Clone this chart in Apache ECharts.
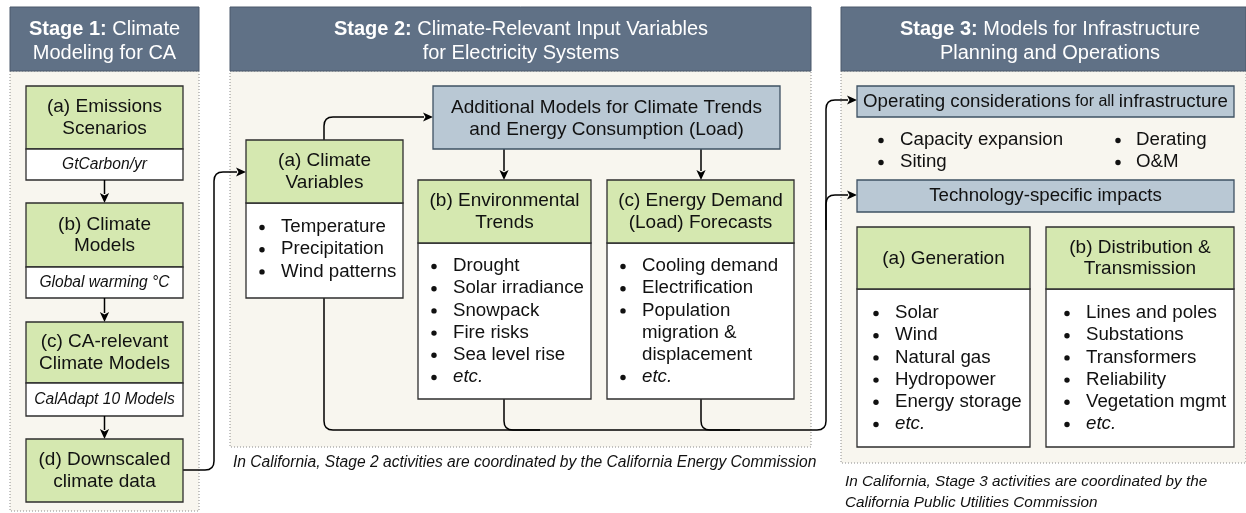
<!DOCTYPE html>
<html><head><meta charset="utf-8">
<script src="https://cdn.jsdelivr.net/npm/echarts@6/dist/echarts.min.js"></script>
<style>html,body{margin:0;padding:0;background:#fff}#c{width:1246px;height:513px}</style>
</head><body><div id="c"></div>
<script>
// ---- content ----
const stageBold = ['Stage 1:', 'Stage 2:', 'Stage 3:'];
const stageRest = [' Climate\nModeling for CA', ' Climate-Relevant Input Variables\nfor Electricity Systems', ' Models for Infrastructure\nPlanning and Operations'];
const stage1Boxes = ['(a) Emissions\nScenarios', '(b) Climate\nModels', '(c) CA-relevant\nClimate Models', '(d) Downscaled\nclimate data'];
const stage1Outputs = ['GtCarbon/yr', 'Global warming °C', 'CalAdapt 10 Models'];
const stage2Model = 'Additional Models for Climate Trends\nand Energy Consumption (Load)';
const stage2Boxes = ['(a) Climate\nVariables', '(b) Environmental\nTrends', '(c) Energy Demand\n(Load) Forecasts'];
const stage2Items = [
  ['Temperature', 'Precipitation', 'Wind patterns'],
  ['Drought', 'Solar irradiance', 'Snowpack', 'Fire risks', 'Sea level rise', 'etc.'],
  ['Cooling demand', 'Electrification', 'Population\nmigration &\ndisplacement', 'etc.']
];
const operatingTitle = 'Operating considerations{s| for all }infrastructure';
const operatingItems = [['Capacity expansion', 'Siting'], ['Derating', 'O&M']];
const techTitle = 'Technology-specific impacts';
const stage3Boxes = ['(a) Generation', '(b) Distribution &\nTransmission'];
const stage3Items = [
  ['Solar', 'Wind', 'Natural gas', 'Hydropower', 'Energy storage', 'etc.'],
  ['Lines and poles', 'Substations', 'Transformers', 'Reliability', 'Vegetation mgmt', 'etc.']
];
const captions = [
  'In California, Stage 2 activities are coordinated by the California Energy Commission',
  'In California, Stage 3 activities are coordinated by the\nCalifornia Public Utilities Commission'
];

// ---- layout (axis units) ----
const L = {
  stages: [{x0: 10, x1: 199, cx: 104.5, bottom: 511}, {x0: 230, x1: 811, cx: 521, bottom: 447}, {x0: 841, x1: 1246, cx: 1050, bottom: 463}],
  headY: [7, 71],
  s1x: [26, 183],
  s1green: [[86, 149], [203, 267], [322, 383], [439, 502]],
  s1white: [[149, 180], [267, 298], [383, 416]],
  model: [433, 86, 780, 149],
  s2box: [
    {x0: 246, x1: 403, g0: 140, g1: 203, b: 298, by: 227, dx: 262, tx: 281},
    {x0: 418, x1: 591, g0: 180, g1: 243, b: 399, by: 266, dx: 434, tx: 453},
    {x0: 607, x1: 794, g0: 180, g1: 243, b: 399, by: 266, dx: 623, tx: 642}
  ],
  op: [857, 86, 1234, 117],
  opCols: [{dx: 881, tx: 900}, {dx: 1118, tx: 1136}],
  opRows: [140, 162],
  tech: [857, 180, 1234, 212],
  s3box: [
    {x0: 857, x1: 1030, g0: 227, g1: 289, b: 447, by: 313, dx: 876, tx: 895},
    {x0: 1046, x1: 1234, g0: 227, g1: 289, b: 447, by: 313, dx: 1067, tx: 1086}
  ]
};

const C = {
  head: '#607186', headStroke: '#4a596b', panel: '#f8f6ef', dots: '#8a8a8a',
  green: '#d5e8b0', blue: '#b9c8d4', blueStroke: '#3e5163', box: '#2e2e2e', ink: '#111111'
};
const FONT = "'Liberation Sans', Arial, Helvetica, sans-serif";
const F = {head: 20, title: 19, item: 18.7, label: 15.6, caption2: 15.6, caption3: 15.3, small: 16};

const shapes = [];
const rect = (x0, y0, x1, y1, fill, stroke, lw, dash) => shapes.push({k: 'rect', x0, y0, x1, y1, fill, stroke, lw, dash});
const txt = (x, y, text, o) => shapes.push(Object.assign({k: 'text', x, y, text}, o || {}));
const dot = (x, y) => shapes.push({k: 'dot', x, y});
const link = (pts, arrow) => shapes.push({k: 'link', pts, arrow});

// panels & headers
L.stages.forEach((s) => {
  rect(s.x0, L.headY[1], s.x1, s.bottom, C.panel, C.dots, 1, [1, 2]);
});
L.stages.forEach((s, i) => {
  rect(s.x0, L.headY[0], s.x1, L.headY[1], C.head, C.headStroke, 1);
  txt(s.cx, 41.5, '{b|' + stageBold[i] + '}' + stageRest[i], {color: '#ffffff', size: F.head, lh: 24, rich: true});
});

// connectors
link([[183, 470], [214, 470], [214, 172], [246, 172]], true);
link([[324, 140], [324, 117], [433, 117]], true);
link([[504, 149], [504, 180]], true);
link([[701, 149], [701, 180]], true);
link([[324, 298], [324, 430], [826, 430], [826, 100], [857, 100]], true);
link([[504, 399], [504, 430], [540, 430]], false);
link([[701, 399], [701, 430], [740, 430]], false);
link([[826, 230], [826, 195], [857, 195]], true);

// stage 1
stage1Boxes.forEach((t, i) => {
  const g = L.s1green[i];
  const cx = (L.s1x[0] + L.s1x[1]) / 2;
  rect(L.s1x[0], g[0], L.s1x[1], g[1], C.green, C.box, 1.3);
  txt(cx, (g[0] + g[1]) / 2 + 0.5, t, {size: F.title, lh: 21.5});
  if (i < stage1Outputs.length) {
    const w = L.s1white[i];
    rect(L.s1x[0], w[0], L.s1x[1], w[1], '#ffffff', C.box, 1.3);
    txt(cx, (w[0] + w[1]) / 2, stage1Outputs[i], {size: F.label, italic: true});
    link([[cx, w[1]], [cx, L.s1green[i + 1][0]]], true);
  }
});

function bullets(box, items, step) {
  let y = box.by;
  items.forEach(it => {
    const lines = it.split('\n');
    dot(box.dx, y);
    lines.forEach(l => {
      txt(box.tx, y, l, {size: F.item, align: 'left', italic: l === 'etc.'});
      y += step;
    });
  });
}

// stage 2
rect(L.model[0], L.model[1], L.model[2], L.model[3], C.blue, C.blueStroke, 1.3);
txt((L.model[0] + L.model[2]) / 2, (L.model[1] + L.model[3]) / 2 + 1, stage2Model, {size: F.title, lh: 22});
L.s2box.forEach((b, i) => {
  rect(b.x0, b.g1, b.x1, b.b, '#ffffff', C.box, 1.3);
  rect(b.x0, b.g0, b.x1, b.g1, C.green, C.box, 1.3);
  txt((b.x0 + b.x1) / 2, (b.g0 + b.g1) / 2 + 0.5, stage2Boxes[i], {size: F.title, lh: 21.5});
  bullets(b, stage2Items[i], 22.2);
});
txt(233, 463, captions[0], {size: F.caption2, italic: true, align: 'left'});

// stage 3
rect(L.op[0], L.op[1], L.op[2], L.op[3], C.blue, C.blueStroke, 1.3);
txt((L.op[0] + L.op[2]) / 2, (L.op[1] + L.op[3]) / 2 + 0.5, operatingTitle, {size: F.item, rich: true});
L.opCols.forEach((c, ci) => {
  operatingItems[ci].forEach((t, ri) => {
    dot(c.dx, L.opRows[ri]);
    txt(c.tx, L.opRows[ri], t, {size: F.item, align: 'left'});
  });
});
rect(L.tech[0], L.tech[1], L.tech[2], L.tech[3], C.blue, C.blueStroke, 1.3);
txt((L.tech[0] + L.tech[2]) / 2, (L.tech[1] + L.tech[3]) / 2, techTitle, {size: F.item});
L.s3box.forEach((b, i) => {
  rect(b.x0, b.g1, b.x1, b.b, '#ffffff', C.box, 1.3);
  rect(b.x0, b.g0, b.x1, b.g1, C.green, C.box, 1.3);
  txt((b.x0 + b.x1) / 2, (b.g0 + b.g1) / 2 + 0.5, stage3Boxes[i], {size: F.title, lh: 21.5});
  bullets(b, stage3Items[i], 22.2);
});
txt(845, 492.5, captions[1], {size: F.caption3, italic: true, align: 'left', lh: 21});

// ---- rendering through the cartesian scales ----
function renderItem(params, api) {
  const s = shapes[params.dataIndex];
  const P = (x, y) => api.coord([x, y]);
  if (s.k === 'rect') {
    const a = P(s.x0, s.y0), b = P(s.x1, s.y1);
    return {type: 'rect', shape: {x: a[0], y: a[1], width: b[0] - a[0], height: b[1] - a[1]},
      style: {fill: s.fill, stroke: s.stroke, lineWidth: s.lw, lineDash: s.dash || null}};
  }
  if (s.k === 'dot') {
    const p = P(s.x, s.y);
    return {type: 'circle', shape: {cx: p[0], cy: p[1] + 0.5, r: 2.7}, style: {fill: C.ink}};
  }
  if (s.k === 'text') {
    const p = P(s.x, s.y);
    const lh = s.lh || s.size * 1.25;
    const st = {
      text: s.text, fill: s.color || C.ink, fontSize: s.size, fontFamily: FONT,
      fontStyle: s.italic ? 'italic' : 'normal', fontWeight: 'normal',
      align: s.align || 'center', textAlign: s.align || 'center',
      verticalAlign: 'middle', textVerticalAlign: 'middle', lineHeight: lh
    };
    if (s.rich) {
      st.rich = {
        b: {fontWeight: 'bold', fontSize: s.size, fontFamily: FONT, fill: s.color || C.ink, lineHeight: lh},
        s: {fontSize: F.small, fontFamily: FONT, fill: s.color || C.ink, lineHeight: lh}
      };
    }
    return {type: 'text', x: p[0], y: p[1], style: st};
  }
  if (s.k === 'link') {
    const pts = s.pts.map(q => P(q[0], q[1]));
    const AL = 10, AW = 4.6, R = 9;
    const n = pts.length;
    const tip = pts[n - 1], prev = pts[n - 2];
    let ux = tip[0] - prev[0], uy = tip[1] - prev[1];
    const len = Math.hypot(ux, uy); ux /= len; uy /= len;
    const line = pts.slice();
    if (s.arrow) line[n - 1] = [tip[0] - ux * (AL - 1), tip[1] - uy * (AL - 1)];
    let d = 'M' + line[0][0] + ' ' + line[0][1];
    for (let i = 1; i < n - 1; i++) {
      const a = line[i - 1], p = line[i], b = line[i + 1];
      let v1x = p[0] - a[0], v1y = p[1] - a[1]; const l1 = Math.hypot(v1x, v1y); v1x /= l1; v1y /= l1;
      let v2x = b[0] - p[0], v2y = b[1] - p[1]; const l2 = Math.hypot(v2x, v2y); v2x /= l2; v2y /= l2;
      d += ' L' + (p[0] - v1x * R) + ' ' + (p[1] - v1y * R) + ' Q' + p[0] + ' ' + p[1] + ' ' + (p[0] + v2x * R) + ' ' + (p[1] + v2y * R);
    }
    d += ' L' + line[n - 1][0] + ' ' + line[n - 1][1];
    const children = [{type: 'path', shape: {pathData: d}, style: {fill: 'none', stroke: '#000', lineWidth: 1.5}}];
    if (s.arrow) {
      const bx = tip[0] - ux * AL, by = tip[1] - uy * AL;
      children.push({type: 'polygon', shape: {points: [[tip[0], tip[1]], [bx - uy * AW, by + ux * AW], [bx + ux * 2.5, by + uy * 2.5], [bx + uy * AW, by - ux * AW]]}, style: {fill: '#000'}});
    }
    return {type: 'group', children};
  }
}

const chart = echarts.init(document.getElementById('c'), null, {renderer: 'canvas'});
chart.setOption({
  animation: false,
  backgroundColor: '#ffffff',
  grid: {left: 0, right: 0, top: 0, bottom: 0, containLabel: false},
  xAxis: {type: 'value', min: 0, max: 1246, show: false},
  yAxis: {type: 'value', min: 0, max: 513, inverse: true, show: false},
  series: [{
    type: 'custom', coordinateSystem: 'cartesian2d', clip: false, silent: true,
    renderItem,
    data: shapes.map(s => [s.x0 !== undefined ? s.x0 : (s.x !== undefined ? s.x : s.pts[0][0]), s.y0 !== undefined ? s.y0 : (s.y !== undefined ? s.y : s.pts[0][1])])
  }]
});
</script></body></html>
